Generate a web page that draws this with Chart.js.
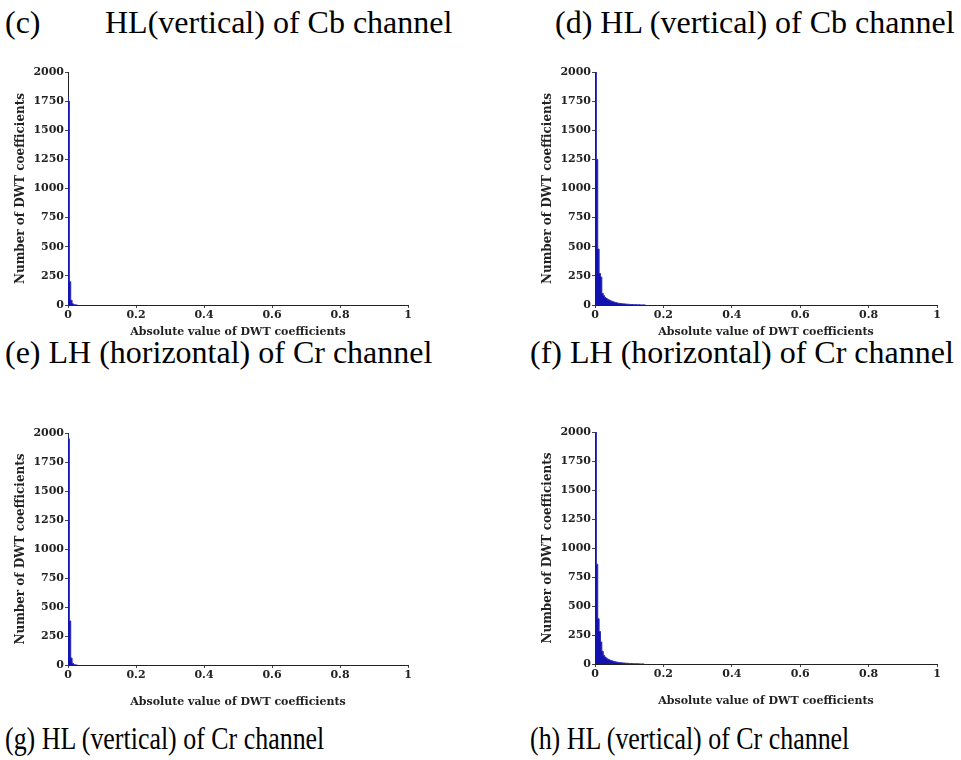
<!DOCTYPE html>
<html>
<head>
<meta charset="utf-8">
<script src="https://cdn.jsdelivr.net/npm/chart.js@4.4.1/dist/chart.umd.min.js"></script>
<style>
  html, body { margin: 0; padding: 0; background: #fff; }
  body { width: 961px; height: 760px; position: relative; overflow: hidden; font-family: "Liberation Serif", "Times New Roman", serif; }
  .cap { position: absolute; font-size: 32px; color: #000; white-space: pre; line-height: 1; }
  .cap.narrow { transform-origin: left center; transform: scaleX(0.81); font-size: 32px; }
  canvas { position: absolute; }
</style>
</head>
<body>
<div class="cap" style="left:5px; top:6px;">(c)</div>
<div class="cap" style="left:105px; top:6px;">HL(vertical) of Cb channel</div>
<div class="cap" style="left:555px; top:6px;">(d) HL (vertical) of Cb channel</div>
<div class="cap" style="left:5px; top:336px;">(e) LH (horizontal) of Cr channel</div>
<div class="cap" style="left:530px; top:336px;">(f) LH (horizontal) of Cr channel</div>
<div class="cap narrow" style="left:5px; top:722px;">(g) HL (vertical) of Cr channel</div>
<div class="cap narrow" style="left:530px; top:722px;">(h) HL (vertical) of Cr channel</div>

<canvas id="cC" width="420" height="285" style="left:0px; top:60px;"></canvas>
<canvas id="cD" width="423" height="285" style="left:527px; top:60px;"></canvas>
<canvas id="cG" width="420" height="292" style="left:0px; top:421px;"></canvas>
<canvas id="cH" width="423" height="292" style="left:527px; top:420px;"></canvas>

<script>
// Histogram bin left edges (absolute value of DWT coefficients)
const binEdges = [0, 0.004, 0.008, 0.012, 0.016, 0.020, 0.024, 0.028, 0.032, 0.036,
                  0.040, 0.044, 0.048, 0.052, 0.056, 0.060, 0.064, 0.068, 0.072, 0.076,
                  0.080, 0.084, 0.088, 0.092, 0.096, 0.100, 0.104, 0.108, 0.112, 0.116,
                  0.120, 0.124, 0.128, 0.132, 0.136, 0.140, 0.144, 0.148];

// (c) HL (vertical) of Cb channel
const countsC = [1800, 1750, 200, 40, 10, 3, 1, 0];
// (d) HL (vertical) of Cb channel
const countsD = [2400, 2100, 1250, 480, 270, 240, 100, 80, 65, 55,
                 48, 42, 36, 31, 27, 23, 20, 17, 15, 13,
                 11, 10, 9, 8, 7, 6, 5, 4, 4, 3,
                 3, 2, 2, 2, 1, 1, 1, 0];
// (g) HL (vertical) of Cr channel
const countsG = [2000, 1950, 380, 60, 15, 4, 1, 0];
// (h) HL (vertical) of Cr channel
const countsH = [2300, 2000, 860, 390, 280, 190, 110, 75, 60, 50,
                 42, 36, 31, 27, 23, 20, 17, 15, 13, 11,
                 10, 9, 8, 7, 6, 5, 4, 4, 3, 3,
                 2, 2, 2, 1, 1, 1, 0];

const xTickValues = [0, 0.2, 0.4, 0.6, 0.8, 1];
const xTickLabels = ['0', '0.2', '0.4', '0.6', '0.8', '1'];
const yTickLabels = ['0', '250', '500', '750', '1000', '1250', '1500', '1750', '2000'];

const xTitle = 'Absolute value of DWT coefficients';
const yTitle = 'Number of DWT coefficients';

function makeChart(id, counts, lay) {
  const pts = counts.map((c, i) => ({ x: binEdges[i], y: c }));
  new Chart(document.getElementById(id), {
    type: 'line',
    data: {
      datasets: [{
        data: pts,
        stepped: 'after',
        borderColor: '#2a2ab8',
        borderWidth: 1,
        backgroundColor: '#1212b0',
        fill: 'origin',
        pointRadius: 0,
        tension: 0
      }]
    },
    options: {
      responsive: false,
      animation: false,
      events: [],
      layout: { padding: { top: lay.top, right: lay.right, left: 0, bottom: 0 } },
      plugins: { legend: { display: false }, tooltip: { enabled: false } },
      scales: {
        x: {
          type: 'linear',
          min: 0, max: 1,
          afterBuildTicks: s => { s.ticks = xTickValues.map(v => ({ value: v })); },
          afterFit: s => { s.height = lay.xh; },
          border: { display: true, color: '#222', width: 1 },
          grid: { drawOnChartArea: false, drawTicks: true, tickLength: 3, color: '#444' },
          ticks: {
            padding: 1,
            color: '#222',
            font: { family: 'DejaVu Serif', weight: 'bold', size: 11 },
            callback: (v, i) => xTickLabels[i]
          },
          title: {
            display: true, text: xTitle, color: '#222',
            font: { family: 'DejaVu Serif', weight: 'bold', size: 11 },
            padding: { top: 0, bottom: lay.xtp }
          }
        },
        y: {
          type: 'linear',
          min: 0, max: 2000,
          afterBuildTicks: s => { s.ticks = yTickLabels.map(t => ({ value: Number(t) })); },
          afterFit: s => { s.width = 68; },
          border: { display: true, color: '#222', width: 1 },
          grid: { drawOnChartArea: false, drawTicks: true, tickLength: 3, color: '#444' },
          ticks: {
            padding: 1,
            color: '#222',
            font: { family: 'DejaVu Serif', weight: 'bold', size: 11 },
            callback: (v, i) => yTickLabels[i]
          },
          title: {
            display: true, text: yTitle, color: '#222',
            font: { family: 'DejaVu Serif', weight: 'bold', size: 12 },
            padding: { top: 14, bottom: 0 }
          }
        }
      }
    }
  });
}

makeChart('cC', countsC, { top: 12, right: 12, xh: 40, xtp: 6 });
makeChart('cD', countsD, { top: 12, right: 13, xh: 40, xtp: 6 });
makeChart('cG', countsG, { top: 12, right: 12, xh: 48, xtp: 4 });
makeChart('cH', countsH, { top: 12, right: 13, xh: 48, xtp: 4 });
</script>
</body>
</html>
